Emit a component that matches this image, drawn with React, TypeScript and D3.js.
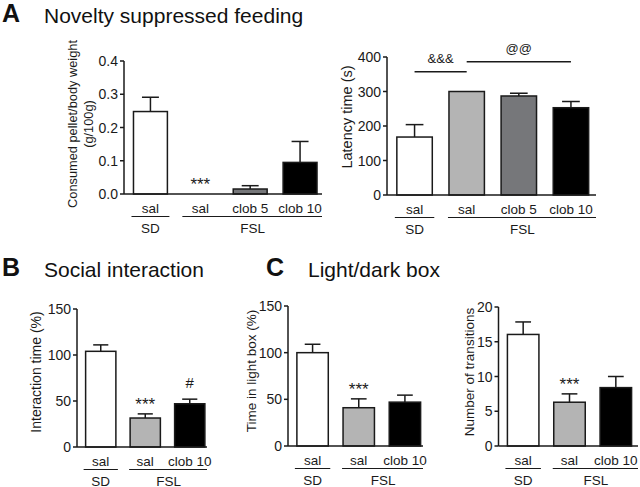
import * as d3 from "d3";

// ---- data ----
const nsfCategories = ["sal", "sal", "clob 5", "clob 10"];
const shortCategories = ["sal", "sal", "clob 10"];
const nsfFills = ["#ffffff", "#b4b4b4", "#76777a", "#000000"];
const shortFills = ["#ffffff", "#b4b4b4", "#000000"];

const pelletMean = [0.248, 0, 0.015, 0.095];
const pelletSem = [0.043, 0, 0.01, 0.063];
const pelletMarks = ["", "***", "", ""];
const pelletTicks = [0, 0.1, 0.2, 0.3, 0.4];

const latencyMean = [168, 300, 287, 253];
const latencySem = [36, 0, 8, 18];
const latencyMarks = ["", "", "", ""];
const latencyTicks = [0, 100, 200, 300, 400];
const latencyBrackets = [
  { from: 0, to: 1, value: 357, label: "&&&" },
  { from: 1, to: 3, value: 386, label: "@@" },
];

const socialMean = [104, 31.5, 47];
const socialSem = [7, 4.5, 5];
const socialMarks = ["", "***", "#"];
const pctTicks = [0, 50, 100, 150];

const lightMean = [100, 41, 47];
const lightSem = [9, 9.5, 7.5];
const lightMarks = ["", "***", ""];

const transMean = [16.05, 6.3, 8.4];
const transSem = [1.8, 1.2, 1.6];
const transMarks = ["", "***", ""];
const transTicks = [0, 5, 10, 15, 20];

const FONT = "'Liberation Sans', Arial, sans-serif";
const INK = "#1a1a1a";

interface Bracket {
  from: number;
  to: number;
  value: number;
  label: string;
}

interface PanelProps {
  cats: string[];
  mean: number[];
  sem: number[];
  fills: string[];
  marks: string[];
  ticks: number[];
  fmt: string;
  axisX: number;
  bandEnd: number;
  axisEnd: number;
  top: number;
  bottom: number;
  yLabel: string[];
  labelX: number[];
  labelY: number;
  labelSize: number;
  brackets?: Bracket[];
}

const Panel = (p: PanelProps) => {
  const y = d3
    .scaleLinear()
    .domain([0, p.ticks[p.ticks.length - 1]])
    .range([p.bottom, p.top]);
  const x = d3
    .scaleBand<number>()
    .domain(p.cats.map((_, i) => i))
    .range([p.axisX + 1.5, p.bandEnd])
    .paddingInner(0.32)
    .paddingOuter(0.16);
  const bw = x.bandwidth();
  const fmt = d3.format(p.fmt);
  const cx = (i: number) => (x(i) ?? 0) + bw / 2;

  return (
    <g fontFamily={FONT} fill={INK}>
      {/* bars */}
      {p.mean.map((m, i) => (
        <rect
          key={"b" + i}
          x={x(i)}
          y={y(m)}
          width={bw}
          height={p.bottom - y(m)}
          fill={p.fills[i]}
          stroke={INK}
          strokeWidth={1.5}
        />
      ))}
      {/* error bars */}
      {p.sem.map((s, i) =>
        s > 0 ? (
          <g key={"e" + i} stroke={INK} strokeWidth={1.5}>
            <line x1={cx(i)} x2={cx(i)} y1={y(p.mean[i])} y2={y(p.mean[i] + s)} />
            <line
              x1={cx(i) - bw / 4}
              x2={cx(i) + bw / 4}
              y1={y(p.mean[i] + s)}
              y2={y(p.mean[i] + s)}
            />
          </g>
        ) : null
      )}
      {/* significance marks */}
      {p.marks.map((mk, i) =>
        mk ? (
          <text
            key={"m" + i}
            x={cx(i)}
            y={y(p.mean[i] + p.sem[i]) - (mk === "#" ? 11 : 4)}
            textAnchor="middle"
            fontSize={mk === "#" ? 15 : 17}
          >
            {mk}
          </text>
        ) : null
      )}
      {(p.brackets ?? []).map((b, i) => (
        <g key={"k" + i}>
          <line
            x1={cx(b.from)}
            x2={cx(b.to)}
            y1={y(b.value)}
            y2={y(b.value)}
            stroke={INK}
            strokeWidth={1.5}
          />
          <text
            x={(cx(b.from) + cx(b.to)) / 2}
            y={y(b.value) - 9}
            textAnchor="middle"
            fontSize={13}
          >
            {b.label}
          </text>
        </g>
      ))}
      {/* y axis */}
      <line x1={p.axisX} x2={p.axisX} y1={p.top} y2={p.bottom} stroke={INK} strokeWidth={1.5} />
      {p.ticks.map((t) => (
        <g key={"t" + t}>
          <line x1={p.axisX - 4} x2={p.axisX} y1={y(t)} y2={y(t)} stroke={INK} strokeWidth={1.5} />
          <text
            x={p.axisX - 6}
            y={y(t)}
            textAnchor="end"
            dominantBaseline="central"
            fontSize={14}
          >
            {fmt(t)}
          </text>
        </g>
      ))}
      {/* x axis */}
      <line x1={p.axisX} x2={p.axisEnd} y1={p.bottom} y2={p.bottom} stroke={INK} strokeWidth={1.5} />
      {p.cats.map((c, i) => (
        <text key={"c" + i} x={cx(i)} y={p.bottom + 18.5} textAnchor="middle" fontSize={13.5}>
          {c}
        </text>
      ))}
      {/* group labels */}
      <line
        x1={(x(0) ?? 0) - 2}
        x2={(x(0) ?? 0) + bw + 2}
        y1={p.bottom + 22.5}
        y2={p.bottom + 22.5}
        stroke={INK}
        strokeWidth={1.2}
      />
      <text x={cx(0)} y={p.bottom + 38.5} textAnchor="middle" fontSize={13.5}>
        SD
      </text>
      <line
        x1={(x(1) ?? 0) - 1}
        x2={p.axisEnd}
        y1={p.bottom + 22.5}
        y2={p.bottom + 22.5}
        stroke={INK}
        strokeWidth={1.2}
      />
      <text x={((x(1) ?? 0) + p.axisEnd) / 2} y={p.bottom + 38.5} textAnchor="middle" fontSize={13.5}>
        FSL
      </text>
      {/* y label */}
      {p.yLabel.map((l, i) => (
        <text
          key={"l" + i}
          transform={`translate(${p.labelX[i]},${p.labelY}) rotate(-90)`}
          textAnchor="middle"
          dominantBaseline="central"
          fontSize={p.labelSize}
        >
          {l}
        </text>
      ))}
    </g>
  );
};

const Heading = ({ x, y, letter, title }: { x: number; y: number; letter: string; title: string }) => (
  <g fontFamily={FONT} fill="#111">
    <text x={x} y={y} fontSize={25} fontWeight="bold">
      {letter}
    </text>
    <text x={x + 42} y={y + 1} fontSize={21}>
      {title}
    </text>
  </g>
);

const App = () => (
  <svg
    width={640}
    height={487}
    style={{ position: "absolute", left: 0, top: 0, background: "#fff" }}
  >
    <rect width={640} height={487} fill="#fff" />
    <Heading x={2} y={22} letter="A" title="Novelty suppressed feeding" />
    <Heading x={2} y={276} letter="B" title="Social interaction" />
    <Heading x={266} y={276} letter="C" title="Light/dark box" />

    <Panel
      cats={nsfCategories}
      mean={pelletMean}
      sem={pelletSem}
      fills={nsfFills}
      marks={pelletMarks}
      ticks={pelletTicks}
      fmt=".1f"
      axisX={124}
      bandEnd={325}
      axisEnd={322}
      top={61}
      bottom={194}
      yLabel={["Consumed pellet/body weight", "(g/100g)"]}
      labelX={[72, 88]}
      labelY={124}
      labelSize={12.8}
    />
    <Panel
      cats={nsfCategories}
      mean={latencyMean}
      sem={latencySem}
      fills={nsfFills}
      marks={latencyMarks}
      ticks={latencyTicks}
      fmt="d"
      axisX={387}
      bandEnd={597}
      axisEnd={596}
      top={57}
      bottom={195}
      yLabel={["Latency time (s)"]}
      labelX={[347]}
      labelY={117}
      labelSize={14.5}
      brackets={latencyBrackets}
    />
    <Panel
      cats={shortCategories}
      mean={socialMean}
      sem={socialSem}
      fills={shortFills}
      marks={socialMarks}
      ticks={pctTicks}
      fmt="d"
      axisX={77}
      bandEnd={212}
      axisEnd={207}
      top={309}
      bottom={447}
      yLabel={["Interaction time (%)"]}
      labelX={[36]}
      labelY={372}
      labelSize={14}
    />
    <Panel
      cats={shortCategories}
      mean={lightMean}
      sem={lightSem}
      fills={shortFills}
      marks={lightMarks}
      ticks={pctTicks}
      fmt="d"
      axisX={288}
      bandEnd={428}
      axisEnd={423}
      top={306}
      bottom={446}
      yLabel={["Time in light box (%)"]}
      labelX={[251]}
      labelY={371}
      labelSize={13.5}
    />
    <Panel
      cats={shortCategories}
      mean={transMean}
      sem={transSem}
      fills={shortFills}
      marks={transMarks}
      ticks={transTicks}
      fmt="d"
      axisX={498.5}
      bandEnd={639}
      axisEnd={638}
      top={307}
      bottom={446}
      yLabel={["Number of transitions"]}
      labelX={[469]}
      labelY={372}
      labelSize={13.5}
    />
  </svg>
);

export default App;
